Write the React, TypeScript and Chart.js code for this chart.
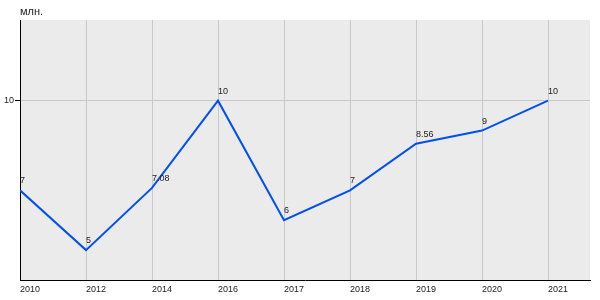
import React, { useEffect, useRef } from "react";
import { Chart, registerables } from "chart.js";

Chart.register(...registerables);

const years = ["2010", "2012", "2014", "2016", "2017", "2018", "2019", "2020", "2021"];
const values = [7, 5, 7.08, 10, 6, 7, 8.56, 9, 10];
const valueLabels = ["7", "5", "7.08", "10", "6", "7", "8.56", "9", "10"];
const yTicks = [10];
const unitLabel = "млн.";

const FONT = "'Liberation Sans', Arial, sans-serif";

const bgPlugin = {
  id: "bgPlugin",
  beforeDraw(chart: any) {
    const { ctx, chartArea } = chart;
    ctx.save();
    ctx.fillStyle = "#ebebeb";
    ctx.fillRect(chartArea.left, chartArea.top, chartArea.right - chartArea.left, chartArea.bottom - chartArea.top);
    ctx.restore();
  },
  afterDraw(chart: any) {
    const { ctx, chartArea } = chart;
    const meta = chart.getDatasetMeta(0);
    ctx.save();
    ctx.fillStyle = "#222";
    ctx.font = `9px ${FONT}`;
    ctx.textAlign = "left";
    ctx.textBaseline = "alphabetic";
    meta.data.forEach((pt: any, i: number) => {
      ctx.fillText(valueLabels[i], pt.x, pt.y - 7);
    });
    ctx.font = `11px ${FONT}`;
    ctx.fillText(unitLabel, chartArea.left, 15);
    ctx.restore();
  },
};

export default function App() {
  const ref = useRef<HTMLCanvasElement>(null);
  useEffect(() => {
    document.body.style.margin = "0";
    const chart = new Chart(ref.current!, {
      type: "line",
      data: {
        datasets: [
          {
            data: values.map((v, i) => ({ x: i, y: v })),
            borderColor: "#0050f0",
            borderWidth: 2,
            pointRadius: 0,
            tension: 0,
            fill: false,
          },
        ],
      },
      options: {
        animation: false,
        responsive: false,
        layout: { padding: { left: 0, top: 20, right: 10, bottom: 0 } },
        plugins: { legend: { display: false }, tooltip: { enabled: false } },
        scales: {
          x: {
            type: "linear",
            min: 0,
            max: 8.636,
            afterBuildTicks(scale: any) {
              scale.ticks = years.map((_, i) => ({ value: i }));
            },
            afterFit(scale: any) {
              scale.height = 20;
            },
            grid: { color: "#c8c8c8", drawTicks: false, lineWidth: 1 },
            border: { color: "#000", width: 1 },
            ticks: {
              align: "start",
              padding: 4,
              color: "#222",
              font: { size: 9, family: FONT },
              maxRotation: 0,
              autoSkip: false,
              callback: (v: any) => years[v] ?? "",
            },
          },
          y: {
            min: 4,
            max: 12.7,
            afterBuildTicks(scale: any) {
              scale.ticks = yTicks.map((v) => ({ value: v }));
            },
            afterFit(scale: any) {
              scale.width = 20;
            },
            grid: { color: "#c8c8c8", tickColor: "#000", tickLength: 5, lineWidth: 1 },
            border: { color: "#000", width: 1 },
            ticks: {
              padding: 1,
              color: "#222",
              font: { size: 9, family: FONT },
              callback: (v: any) => String(v),
            },
          },
        },
      },
      plugins: [bgPlugin],
    });
    return () => chart.destroy();
  }, []);
  return <canvas ref={ref} width={600} height={300} style={{ display: "block" }} />;
}
